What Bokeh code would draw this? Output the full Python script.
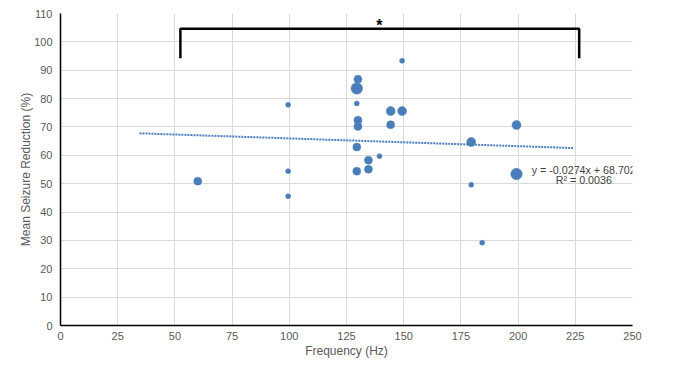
from bokeh.plotting import figure
from bokeh.models import Range1d, SingleIntervalTicker, Label, ColumnDataSource
from bokeh.embed import file_html
from bokeh.resources import INLINE

# ---- data ----
frequency_hz = [60, 99.5, 99.5, 99.5, 130, 129.5, 129.5, 130, 130, 129.5, 129.5,
                134.6, 134.6, 139.4, 144.3, 149.3, 144.3, 149.3, 179.5, 179.5,
                184.3, 199.3, 199.3]
seizure_reduction = [50.9, 77.8, 54.4, 45.6, 86.8, 83.6, 78.3, 72.4, 70.2, 62.9, 54.4,
                     58.3, 55.1, 59.7, 75.6, 75.6, 70.8, 93.3, 64.7, 49.6,
                     29.2, 70.7, 53.4]
# relative study weight (bubble class)
study_weight = [2, 1, 1, 1, 2, 4, 1, 2, 2, 2, 2,
                2, 2, 1, 3, 3, 2, 1, 3, 1,
                1, 3, 4]
trend_slope = -0.0274
trend_intercept = 68.702
trend_x = [34.5, 224.0]
equation_text = "y = -0.0274x + 68.702"
r2_text = "R\u00b2 = 0.0036"
bracket_x = [52.4, 52.4, 226.7, 226.7]
bracket_y = [94.2, 104.6, 104.6, 94.2]
star_text = "*"

# ---- style ----
BLUE = "#4A7EBB"
GREY_TXT = "#595959"
FONT = "Liberation Sans"
size_map = {1: 5, 2: 8, 3: 9, 4: 11.5}

p = figure(width=670, height=368, output_backend="svg", toolbar_location=None,
           x_range=Range1d(0, 250), y_range=Range1d(0, 110),
           min_border_left=60, min_border_right=38, min_border_top=13,
           min_border_bottom=43)
p.outline_line_color = None
p.background_fill_color = "white"

p.xaxis.ticker = SingleIntervalTicker(interval=25)
p.yaxis.ticker = SingleIntervalTicker(interval=10)
for ax in (p.xaxis, p.yaxis):
    ax.major_tick_line_color = None
    ax.minor_tick_line_color = None
    ax.major_tick_out = 0
    ax.major_tick_in = 0
    ax.minor_tick_out = 0
    ax.minor_tick_in = 0
    ax.axis_line_color = "black"
    ax.axis_line_width = 1.5
    ax.major_label_text_font = FONT
    ax.major_label_text_font_size = "11px"
    ax.major_label_text_color = GREY_TXT
    ax.axis_label_text_font = FONT
    ax.axis_label_text_font_size = "12px"
    ax.axis_label_text_font_style = "normal"
    ax.axis_label_text_color = GREY_TXT
p.xaxis.axis_label = "Frequency (Hz)"
p.yaxis.axis_label = "Mean Seizure Reduction (%)"
p.xaxis.major_label_standoff = 6
p.xaxis.axis_label_standoff = 1
p.yaxis.major_label_standoff = 8
p.yaxis.axis_label_standoff = -2

p.xgrid.grid_line_color = "#d9d9d9"
p.ygrid.grid_line_color = "#d9d9d9"
p.xgrid.grid_line_width = 1
p.ygrid.grid_line_width = 1

src = ColumnDataSource(dict(x=frequency_hz, y=seizure_reduction,
                            s=[size_map[w] for w in study_weight]))
p.scatter("x", "y", size="s", source=src, fill_color=BLUE, line_color=BLUE,
          line_width=0.5)

trend_y = [trend_slope * xv + trend_intercept for xv in trend_x]
p.line(trend_x, trend_y, line_color=BLUE, line_width=2, line_dash="2 1")

p.line(bracket_x, bracket_y, line_color="black", line_width=2.5)

p.add_layout(Label(x=139.4, y=105.7, text=star_text, text_align="center",
                   text_baseline="middle", text_font=FONT, text_font_size="16px",
                   text_font_style="bold", text_color="black"))
p.add_layout(Label(x=228.7, y=54.8, text=equation_text, text_align="center",
                   text_baseline="middle", text_font=FONT, text_font_size="10.7px",
                   text_color="#404040"))
p.add_layout(Label(x=228.7, y=51.2, text=r2_text, text_align="center",
                   text_baseline="middle", text_font=FONT, text_font_size="10.7px",
                   text_color="#404040"))

open("out.html", "w").write(file_html(p, INLINE))
